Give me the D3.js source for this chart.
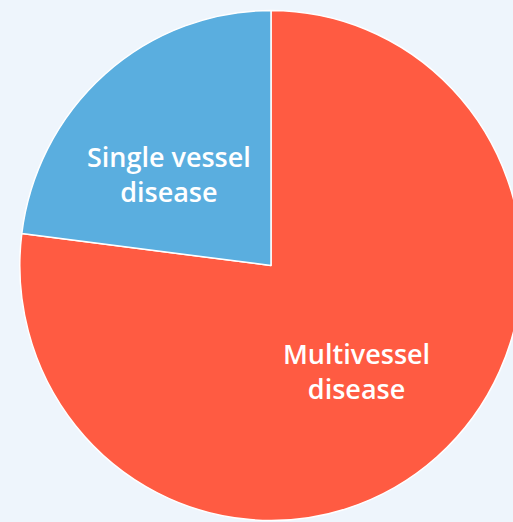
<!DOCTYPE html>
<html>
<head>
<meta charset="utf-8">
<script src="https://cdn.jsdelivr.net/npm/d3@7/dist/d3.min.js"></script>
<style>
  html, body { margin: 0; padding: 0; background: #eef5fc; overflow: hidden; }
  svg { display: block; }
</style>
</head>
<body>
<svg id="chart" width="513" height="522"></svg>
<script>
// Share of patients by coronary disease extent (%)
const categories = ["Multivessel disease", "Single vessel disease"];
const values = [77, 23];
const labelLines = [["Multivessel", "disease"], ["Single vessel", "disease"]];
const colors = ["#ff5b42", "#5aaedf"];

const width = 513, height = 522;
const cx = 271, cy = 265.5, R = 255;
const squeezeX = 0.985;

const svg = d3.select("#chart");
const root = svg.append("g").attr("transform", `translate(${cx},${cy})`);
const slices = root.append("g").attr("transform", `scale(${squeezeX},1)`);

const pie = d3.pie().sort(null).value(d => d.value).startAngle(0).endAngle(2 * Math.PI);
const data = categories.map((c, i) => ({ name: c, value: values[i], lines: labelLines[i], color: colors[i] }));
const arcs = pie(data);

const arc = d3.arc().innerRadius(0).outerRadius(R);

slices.selectAll("path.slice")
  .data(arcs)
  .join("path")
  .attr("class", "slice")
  .attr("d", arc)
  .attr("fill", d => d.data.color)
  .attr("stroke", "#ffffff")
  .attr("stroke-width", 1.5)
  .attr("stroke-linejoin", "round");

// Labels sit inside each slice, a little past half the radius
const labelRadius = R * 0.54;
const angleShift = [0.04, -0.13];
const fontSize = 27, lineGap = 35;

root.selectAll("text.label")
  .data(arcs)
  .join("text")
  .attr("class", "label")
  .attr("text-anchor", "middle")
  .attr("font-family", "'Open Sans', sans-serif")
  .attr("font-weight", 600)
  .attr("font-size", fontSize)
  .attr("fill", "#ffffff")
  .attr("transform", (d, i) => {
    const a = (d.startAngle + d.endAngle) / 2 + angleShift[i];
    const x = Math.sin(a) * labelRadius * squeezeX;
    const y = -Math.cos(a) * labelRadius;
    return `translate(${x},${y})`;
  })
  .each(function(d) {
    const t = d3.select(this);
    const n = d.data.lines.length;
    d.data.lines.forEach((line, k) => {
      t.append("tspan")
        .attr("x", 0)
        .attr("y", (k - (n - 1) / 2) * lineGap + fontSize * 0.35)
        .text(line);
    });
  });
</script>
</body>
</html>
